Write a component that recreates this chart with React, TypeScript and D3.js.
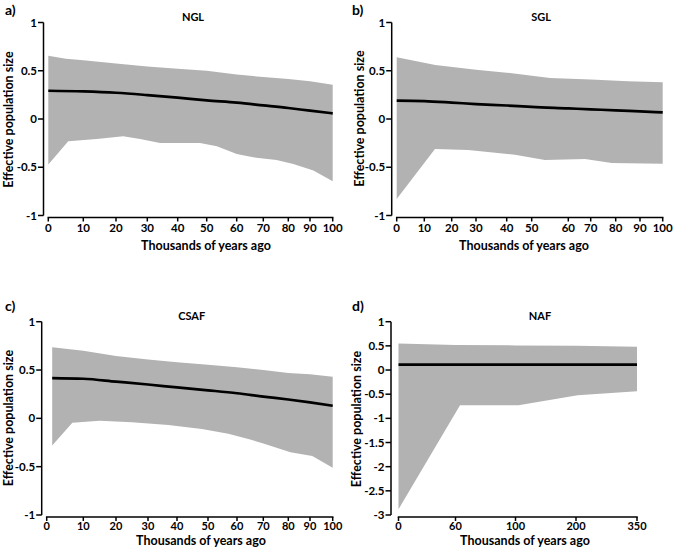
import React from "react";
import * as d3 from "d3";

// ---------- data ----------
const panelLetters = ["a)", "b)", "c)", "d)"];
const panelTitles = ["NGL", "SGL", "CSAF", "NAF"];
const yLabel = "Effective population size";
const xLabel = "Thousands of years ago";

const xTicks100 = [0, 10, 20, 30, 40, 50, 60, 70, 80, 90, 100];
const xTicksNAF = [0, 60, 100, 200, 350];
const yTicksSmall = [-1, -0.5, 0, 0.5, 1];
const yTicksNAF = [-3, -2.5, -2, -1.5, -1, -0.5, 0, 0.5, 1];

// NGL
const nglMeanX = [0, 10, 20, 30, 40, 50, 60, 70, 80, 90, 100];
const nglMeanY = [0.293, 0.286, 0.272, 0.248, 0.221, 0.193, 0.169, 0.141, 0.114, 0.086, 0.059];
const nglUpperX = [0, 5, 10, 20, 30, 40, 50, 60, 70, 80, 90, 100];
const nglUpperY = [0.655, 0.625, 0.61, 0.576, 0.545, 0.52, 0.5, 0.46, 0.435, 0.415, 0.39, 0.355];
const nglLowerX = [0, 5.7, 14.1, 22.3, 27.7, 34.2, 47.7, 53.4, 60, 66.2, 75.3, 82.3, 91.5, 100];
const nglLowerY = [-0.472, -0.231, -0.207, -0.179, -0.207, -0.248, -0.248, -0.283, -0.362, -0.397, -0.424, -0.466, -0.534, -0.645];

// SGL
const sglMeanX = [0, 10, 20, 30, 40, 50, 60, 70, 80, 90, 100];
const sglMeanY = [0.19, 0.185, 0.17, 0.155, 0.14, 0.125, 0.11, 0.1, 0.09, 0.078, 0.068];
const sglUpperX = [0, 14, 30, 40, 55, 70, 85, 100];
const sglUpperY = [0.64, 0.56, 0.51, 0.48, 0.425, 0.41, 0.39, 0.38];
const sglLowerX = [0, 13.9, 26.8, 43.3, 53.6, 67.5, 78.4, 100];
const sglLowerY = [-0.83, -0.31, -0.32, -0.37, -0.425, -0.415, -0.455, -0.465];

// CSAF
const csafMeanX = [1.5, 10, 20, 30, 40, 50, 60, 70, 80, 90, 100];
const csafMeanY = [0.417, 0.41, 0.38, 0.35, 0.32, 0.29, 0.26, 0.225, 0.195, 0.165, 0.13];
const csafUpperX = [1.5, 10, 20, 30, 40, 50, 60, 70, 80, 90, 100];
const csafUpperY = [0.735, 0.7, 0.645, 0.61, 0.58, 0.555, 0.53, 0.5, 0.47, 0.455, 0.43];
const csafLowerX = [1.5, 7, 15, 25, 37, 48, 57, 65, 70, 81, 91, 100];
const csafLowerY = [-0.28, -0.045, -0.025, -0.04, -0.07, -0.11, -0.16, -0.22, -0.26, -0.35, -0.39, -0.51];

// NAF
const nafMeanX = [0, 350];
const nafMeanY = [0.11, 0.11];
const nafUpperX = [0, 60, 100, 200, 350];
const nafUpperY = [0.55, 0.52, 0.51, 0.5, 0.48];
const nafLowerX = [0, 63, 105, 204, 350];
const nafLowerY = [-2.88, -0.73, -0.73, -0.52, -0.44];

// ---------- layout ----------
const FONT = "Lato, 'Open Sans', sans-serif";
const BAND = "#b2b2b2";

type Layout = {
  axisX: number; yTop: number; yBottom: number; xAxisY: number; tickDy: number;
  xPx: number[]; titleX: number; titleY: number; letterX: number; letterY: number;
  yLabX: number; yLabY: number; xLabX: number; xLabY: number;
};

const layouts: Layout[] = [
  { axisX: 43.5, yTop: 22.5, yBottom: 215.5, xAxisY: 217.5, tickDy: 14,
    xPx: [48.3, 83.3, 116, 147.3, 177.7, 206.7, 236.7, 263.3, 288.3, 310, 332.7],
    titleX: 193, titleY: 20.7, letterX: 5, letterY: 15,
    yLabX: 8.5, yLabY: 119.5, xLabX: 206, xLabY: 249.5 },
  { axisX: 391.7, yTop: 22.5, yBottom: 215.5, xAxisY: 217.5, tickDy: 14,
    xPx: [396.7, 424.3, 451.7, 476, 506.7, 531.7, 568.3, 590.7, 615.7, 640, 662.7],
    titleX: 541, titleY: 20.7, letterX: 352, letterY: 15,
    yLabX: 360, yLabY: 118.5, xLabX: 524, xLabY: 249.5 },
  { axisX: 41.7, yTop: 321.7, yBottom: 515, xAxisY: 517, tickDy: 13,
    xPx: [46.7, 83.3, 116, 148, 177, 208, 237, 263.3, 288.3, 310, 332.7],
    titleX: 191.7, titleY: 320, letterX: 5, letterY: 310.7,
    yLabX: 8.5, yLabY: 418, xLabX: 201, xLabY: 545 },
  { axisX: 391, yTop: 321.7, yBottom: 515, xAxisY: 517, tickDy: 13,
    xPx: [398.5, 455.5, 515.5, 576, 637],
    titleX: 540, titleY: 320, letterX: 352, letterY: 310.7,
    yLabX: 356.7, yLabY: 419, xLabX: 525, xLabY: 545 },
];

const panelSeries = [
  { xTicks: xTicks100, yTicks: yTicksSmall, meanX: nglMeanX, meanY: nglMeanY, upX: nglUpperX, upY: nglUpperY, loX: nglLowerX, loY: nglLowerY },
  { xTicks: xTicks100, yTicks: yTicksSmall, meanX: sglMeanX, meanY: sglMeanY, upX: sglUpperX, upY: sglUpperY, loX: sglLowerX, loY: sglLowerY },
  { xTicks: xTicks100, yTicks: yTicksSmall, meanX: csafMeanX, meanY: csafMeanY, upX: csafUpperX, upY: csafUpperY, loX: csafLowerX, loY: csafLowerY },
  { xTicks: xTicksNAF, yTicks: yTicksNAF, meanX: nafMeanX, meanY: nafMeanY, upX: nafUpperX, upY: nafUpperY, loX: nafLowerX, loY: nafLowerY },
];

function fmt(v: number) {
  return String(v);
}

function Panel({ i }: { i: number }) {
  const L = layouts[i];
  const S = panelSeries[i];
  const x = d3.scaleLinear().domain(S.xTicks).range(L.xPx);
  const y = d3.scaleLinear().domain(d3.extent(S.yTicks) as [number, number]).range([L.yBottom, L.yTop]);

  const upper: [number, number][] = S.upX.map((d, k) => [x(d), y(S.upY[k])]);
  const lower: [number, number][] = S.loX.map((d, k) => [x(d), y(S.loY[k])]);
  const poly = d3.line()([...upper, ...lower.reverse()]) + "Z";
  const mean = d3.line<number>().x((d) => x(d)).y((_, k) => y(S.meanY[k])).curve(d3.curveMonotoneX)(S.meanX) as string;

  const xEnd = L.xPx[L.xPx.length - 1];
  const tickFs = i >= 2 ? 11 : 11.5;
  return (
    <g fontFamily={FONT} fontWeight="bold" fill="#000">
      <path d={poly} fill={BAND} stroke="none" />
      <path d={mean} fill="none" stroke="#000" strokeWidth={2.7} />
      {/* y axis */}
      <line x1={L.axisX} x2={L.axisX} y1={L.yTop} y2={L.yBottom} stroke="#000" strokeWidth={1.5} />
      {S.yTicks.map((t) => (
        <g key={"y" + t}>
          <line x1={L.axisX - 5.5} x2={L.axisX} y1={y(t)} y2={y(t)} stroke="#000" strokeWidth={1.5} />
          <text x={L.axisX - 6.5} y={y(t)} dy="0.36em" textAnchor="end" fontSize={11.5}>{fmt(t)}</text>
        </g>
      ))}
      {/* x axis */}
      <line x1={L.xPx[0] - 0.75} x2={xEnd + 0.75} y1={L.xAxisY} y2={L.xAxisY} stroke="#000" strokeWidth={1.5} />
      {S.xTicks.map((t) => (
        <g key={"x" + t}>
          <line x1={x(t)} x2={x(t)} y1={L.xAxisY} y2={L.xAxisY + 4} stroke="#000" strokeWidth={1.5} />
          <text x={x(t)} y={L.xAxisY + L.tickDy} textAnchor="middle" fontSize={tickFs}>{fmt(t)}</text>
        </g>
      ))}
      <text x={L.titleX} y={L.titleY} textAnchor="middle" fontSize={11}>{panelTitles[i]}</text>
      <text x={L.letterX} y={L.letterY} fontSize={14}>{panelLetters[i]}</text>
      <text transform={`translate(${L.yLabX},${L.yLabY}) rotate(-90)`} dy="0.35em" textAnchor="middle" fontSize={12.5}>{yLabel}</text>
      <text x={L.xLabX} y={L.xLabY} textAnchor="middle" fontSize={12.5}>{xLabel}</text>
    </g>
  );
}

export default function App() {
  return (
    <svg width={675} height={548} viewBox="0 0 675 548"
      style={{ position: "absolute", left: 0, top: 0, background: "#fff" }}>
      <rect width={675} height={548} fill="#fff" />
      {[0, 1, 2, 3].map((i) => <Panel key={i} i={i} />)}
    </svg>
  );
}
